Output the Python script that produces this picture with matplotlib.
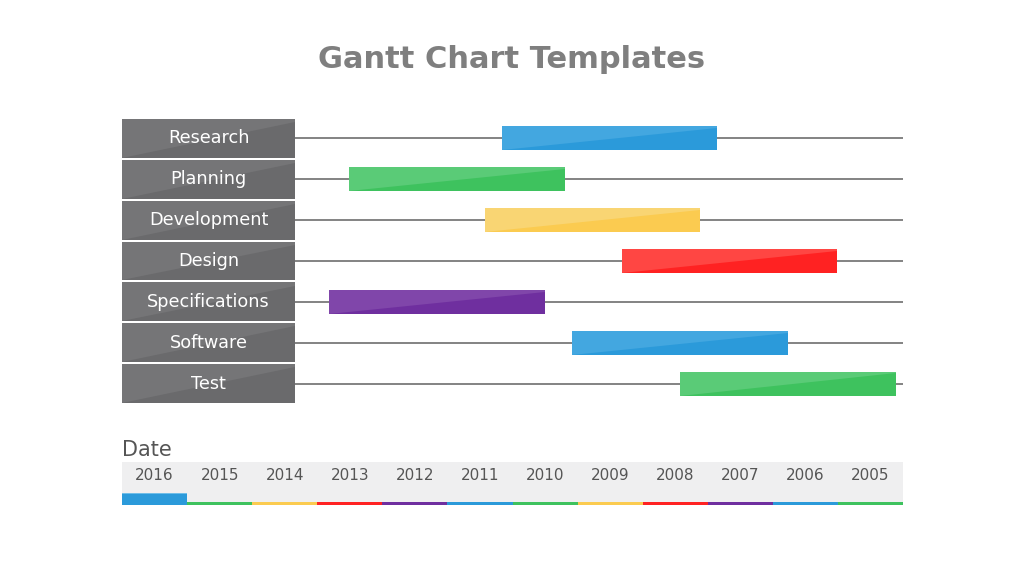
import matplotlib
matplotlib.use("Agg")
import matplotlib.pyplot as plt
from matplotlib.patches import Rectangle, Polygon

# ---- data ----
tasks = ["Research", "Planning", "Development", "Design", "Specifications", "Software", "Test"]
# bar start / end measured in year-column units (column 0 = 2016 ... column 11 = 2005)
bar_start = [5.84, 3.49, 5.58, 7.68, 3.18, 6.92, 8.57]
bar_end = [9.14, 6.81, 8.88, 10.99, 6.50, 10.24, 11.89]
bar_colors = ["blue", "green", "yellow", "red", "purple", "blue", "green"]
years = ["2016", "2015", "2014", "2013", "2012", "2011", "2010", "2009", "2008", "2007", "2006", "2005"]
year_colors = ["blue", "green", "yellow", "red", "purple", "blue", "green", "yellow", "red", "purple", "blue", "green"]
highlight_year = "2016"

palette = {
    "blue": ("#2B9ADA", "#43A7E0"),
    "green": ("#3EC25E", "#5ACB77"),
    "yellow": ("#FBCB50", "#F9D573"),
    "red": ("#FF2222", "#FF4643"),
    "purple": ("#6F2F9F", "#8046AA"),
    "gray": ("#6A6A6C", "#757577"),
}

W, H = 1024, 576
fig = plt.figure(figsize=(W / 100, H / 100), dpi=100)
fig.patch.set_facecolor("white")

def px_axes(x0, y0, x1, y1):
    return fig.add_axes([x0 / W, 1 - y1 / H, (x1 - x0) / W, (y1 - y0) / H])

fig.text(512 / W, 1 - 59 / H, "Gantt Chart Templates", ha="center", va="center",
         fontsize=22, fontweight="bold", color="#7F7F7F", family="DejaVu Sans")

# ---- gantt area ----
ax = px_axes(122, 118, 903, 404)
ax.set_xlim(0, 12)
ax.set_ylim(len(tasks), 0)
ax.axis("off")

label_w = (295 - 122) / (781 / 12)
box_h = 0.953
bar_h = 0.59

def shaded_rect(ax, x0, x1, yc, h, key, z):
    dark, light = palette[key]
    yt, yb = yc - h / 2, yc + h / 2
    ax.add_patch(Rectangle((x0, yt), x1 - x0, h, facecolor=light, edgecolor="none", zorder=z))
    ax.add_patch(Polygon([(x0, yb), (x1, yb), (x1, yt + 0.08 * h)], closed=True,
                         facecolor=dark, edgecolor="none", zorder=z + 0.1))

for i, t in enumerate(tasks):
    yc = i + 0.5
    ax.plot([label_w, 12], [yc, yc], color="#7A7A7A", lw=1.3, zorder=1, solid_capstyle="butt")
    shaded_rect(ax, 0, label_w, yc, box_h, "gray", 2)
    ax.text(label_w / 2, yc, t, ha="center", va="center", color="white", fontsize=12.7, zorder=5)
    shaded_rect(ax, bar_start[i], bar_end[i], yc, bar_h, bar_colors[i], 3)

# ---- date strip ----
fig.text(122 / W, 1 - 450 / H, "Date", ha="left", va="center", fontsize=15, color="#555555")
ax2 = px_axes(122, 462, 903, 506)
ax2.set_xlim(0, 12)
ax2.set_ylim(44, 0)
ax2.axis("off")
ax2.add_patch(Rectangle((0, 0), 12, 40, facecolor="#EFEFF0", edgecolor="none", zorder=1))
for j, (yr, c) in enumerate(zip(years, year_colors)):
    ax2.text(j + 0.5, 14, yr, ha="center", va="center", fontsize=11, color="#555555", zorder=3)
    if yr == highlight_year:
        ax2.add_patch(Rectangle((j, 31), 1, 12, facecolor=palette[c][0], edgecolor="none", zorder=2))
        ax2.add_patch(Rectangle((j, 31), 1, 1, facecolor="#6FBDE8", edgecolor="none", zorder=2.1))
    else:
        ax2.add_patch(Rectangle((j, 40), 1, 3, facecolor=palette[c][0], edgecolor="none", zorder=2))

fig.savefig("out.png", dpi=100)
